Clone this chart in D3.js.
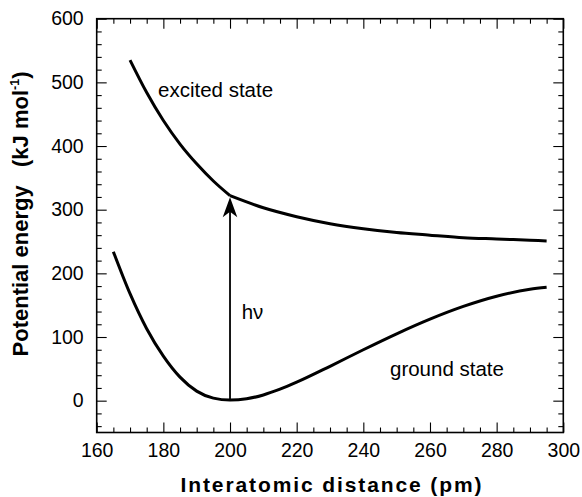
<!DOCTYPE html>
<html><head><meta charset="utf-8">
<script src="https://cdn.jsdelivr.net/npm/d3@7"></script>
<style>
body{margin:0;background:#fff;}
text{font-family:"Liberation Sans",Arial,Helvetica,sans-serif;fill:#000;}
</style></head>
<body><svg id="c" width="582" height="497"></svg>
<script>
// Data
const groundX = [165,170,175,180,185,190,195,200,205,210,215,220,230,240,250,260,270,280,290,295];
const groundY = [234,168,113,70,37,15,4,1,3,9,18,29,54,80,105,128,148,164,175,178];
const excitedX = [170,175,180,185,190,195,200,210,220,230,240,250,260,270,280,290,295];
const excitedY = [535,484,440,403,372,345,322,303,289,278,270,264,260,256,254,252,251];
const xTicks = [160,180,200,220,240,260,280,300];
const yTicks = [0,100,200,300,400,500,600];
const transitionX = 200;
const labels = [
  {text:"excited state", x:178.4, y:477},
  {text:"ground state", x:248, y:38},
  {text:"hν", x:203.5, y:129}
];

const svg = d3.select("#c");
const L=96.7, R=563.3, T=18.7, B=432.5;
const x = d3.scaleLinear().domain([160,300]).range([L,R]);
const y = d3.scaleLinear().domain([-50,600]).range([B,T]);

const minorX = d3.range(160,301,5).filter(v=>v%20!==0);
const minorY = d3.range(-40,601,20).filter(v=>v%100!==0);

function styleAxis(g){ g.select(".domain").remove(); g.selectAll("line").attr("stroke","#000").attr("stroke-width",1.1); }

// bottom
svg.append("g").attr("transform",`translate(0,${B})`)
  .call(d3.axisBottom(x).tickValues(minorX).tickSize(-5).tickFormat("")).call(styleAxis);
svg.append("g").attr("transform",`translate(0,${B})`)
  .call(d3.axisBottom(x).tickValues(xTicks).tickSize(-10).tickPadding(11).tickFormat(d3.format("d")))
  .call(styleAxis).selectAll("text").attr("font-size",19.5).style("font-family","Liberation Sans, Arial");
// top
svg.append("g").attr("transform",`translate(0,${T})`)
  .call(d3.axisTop(x).tickValues(minorX).tickSize(-5).tickFormat("")).call(styleAxis);
svg.append("g").attr("transform",`translate(0,${T})`)
  .call(d3.axisTop(x).tickValues(xTicks).tickSize(-10).tickFormat("")).call(styleAxis);
// left
svg.append("g").attr("transform",`translate(${L},0)`)
  .call(d3.axisLeft(y).tickValues(minorY).tickSize(-5).tickFormat("")).call(styleAxis);
svg.append("g").attr("transform",`translate(${L},0)`)
  .call(d3.axisLeft(y).tickValues(yTicks).tickSize(-10).tickPadding(13).tickFormat(d3.format("d")))
  .call(styleAxis).selectAll("text").attr("font-size",19.5).style("font-family","Liberation Sans, Arial");
// right
svg.append("g").attr("transform",`translate(${R},0)`)
  .call(d3.axisRight(y).tickValues(minorY).tickSize(-5).tickFormat("")).call(styleAxis);
svg.append("g").attr("transform",`translate(${R},0)`)
  .call(d3.axisRight(y).tickValues(yTicks).tickSize(-10).tickFormat("")).call(styleAxis);

// frame
svg.append("rect").attr("x",L).attr("y",T).attr("width",R-L).attr("height",B-T)
  .attr("fill","none").attr("stroke","#000").attr("stroke-width",1.6);

const line = d3.line().x(d=>x(d[0])).y(d=>y(d[1])).curve(d3.curveMonotoneX);
const ground = groundX.map((v,i)=>[v,groundY[i]]);
const excited = excitedX.map((v,i)=>[v,excitedY[i]]);
const iSplit = excitedX.indexOf(transitionX);
svg.append("path").datum(ground).attr("d",line).attr("fill","none").attr("stroke","#000").attr("stroke-width",3).attr("stroke-linejoin","round");
svg.append("path").datum(excited.slice(0,iSplit+1)).attr("d",line).attr("fill","none").attr("stroke","#000").attr("stroke-width",3).attr("stroke-linejoin","round");
svg.append("path").datum(excited.slice(iSplit)).attr("d",line).attr("fill","none").attr("stroke","#000").attr("stroke-width",3).attr("stroke-linejoin","round");

// arrow
const gMin = groundY[groundX.indexOf(transitionX)];
const eVal = excitedY[iSplit];
const ax = x(transitionX), ay0 = y(gMin), ay1 = y(eVal)+1.5;
svg.append("line").attr("x1",ax).attr("x2",ax).attr("y1",ay0).attr("y2",ay1+14)
  .attr("stroke","#000").attr("stroke-width",1.8);
svg.append("path")
  .attr("d",`M${ax},${ay1} L${ax+7.3},${ay1+20} L${ax},${ay1+14.5} L${ax-7.3},${ay1+20} Z`)
  .attr("fill","#000");

// annotations
labels.forEach(l=>{
  svg.append("text").attr("x",x(l.x)).attr("y",y(l.y)).attr("font-size",20.5).text(l.text);
});

// axis titles
svg.append("text").attr("x",(L+R)/2+1).attr("y",491.5).attr("text-anchor","middle")
  .attr("font-size",21).attr("font-weight","bold").attr("textLength",301).attr("lengthAdjust","spacing")
  .text("Interatomic distance (pm)");
const yt = svg.append("text").attr("transform","translate(28,214) rotate(-90)")
  .attr("text-anchor","middle").attr("font-size",22).attr("font-weight","bold");
yt.append("tspan").text("Potential energy\u00a0\u00a0\u00a0(kJ mol");
yt.append("tspan").attr("font-size",12.5).attr("dy",-9).text("-1");
yt.append("tspan").attr("dy",9).text(")");
</script></body></html>
